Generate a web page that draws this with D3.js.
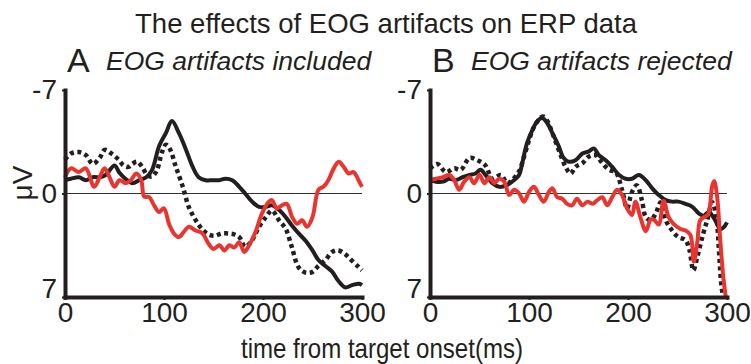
<!DOCTYPE html>
<html>
<head>
<meta charset="utf-8">
<script src="https://cdn.jsdelivr.net/npm/d3@7"></script>
<style>
  body { margin: 0; background: #fff; }
  svg { display: block; font-family: "Liberation Sans", Arial, sans-serif; }
</style>
</head>
<body>
<div id="chart"></div>
<script>
// time (ms) and amplitude (uV) pairs
var includedSolid = [[0,-0.9],[6,-1.0],[14,-1.1],[21,-0.9],[28,-1.1],[35,-1.1],[41,-1.25],[50,-1.9],[55,-1.4],[61,-1.0],[68,-0.7],[75,-0.9],[82,-1.1],[88,-1.6],[95,-3.2],[102,-4.1],[108,-4.9],[115,-4.1],[122,-3.0],[129,-1.8],[135,-1.1],[142,-0.9],[149,-0.9],[156,-0.9],[162,-1.0],[169,-0.9],[176,-0.45],[182,0],[189,0.55],[196,0.9],[203,0.9],[209,0.8],[216,1.1],[223,1.6],[229,2.15],[236,2.7],[243,3.2],[250,3.85],[256,4.5],[263,4.9],[270,5.3],[276,5.9],[283,6.35],[290,6.2],[297,6.1],[300,6.2]];
var includedDotted = [[0,-2.3],[6,-2.7],[14,-2.8],[21,-2.6],[28,-2.0],[35,-2.4],[40,-2.95],[47,-2.7],[54,-2.3],[59,-1.9],[64,-1.8],[68,-2.0],[73,-2.15],[78,-1.8],[83,-1.25],[88,-1.15],[93,-1.6],[98,-2.8],[102,-3.3],[106,-3.0],[112,-1.8],[119,-0.45],[125,0.9],[132,1.8],[139,2.45],[146,2.8],[152,2.85],[158,2.7],[164,2.7],[170,2.75],[176,2.95],[182,3.6],[189,3.15],[196,2.25],[203,1.6],[209,1.15],[216,1.8],[223,2.4],[229,3.6],[236,5.0],[243,5.35],[250,5.3],[256,4.9],[263,4.5],[270,3.95],[276,3.85],[283,4.1],[290,4.55],[297,5.0],[300,5.2]];
var includedRed = [[0,-1.1],[6,-1.7],[14,-1.45],[21,-1.7],[29.5,-0.45],[35,-1.1],[40,-1.7],[45,-1.1],[50,-0.45],[55,-0.9],[61.5,-0.7],[66.5,-0.9],[72,-1.35],[77,-0.9],[80,0.2],[85,0.25],[90,0.8],[95,1.25],[100,1.0],[105,2.05],[110,2.7],[115,2.95],[120,2.6],[125,2.25],[132,2.5],[139,2.7],[145,3.4],[150,3.75],[156,3.5],[161,3.85],[166,3.5],[171,3.65],[176,3.3],[181,3.95],[186,3.5],[193,2.5],[199,1.35],[206,0.55],[209,0.45],[214,1.0],[219,0.8],[224,0.7],[229.5,1.6],[234.5,2.05],[239.5,1.8],[244.5,2.25],[250,1.6],[256,-0.25],[261,-0.45],[266,-0.9],[271.5,-1.7],[276.5,-2.15],[281.5,-1.8],[286.5,-1.35],[291.5,-1.45],[296.5,-0.9],[300,-0.45]];

var rejectedSolid = [[0,-0.9],[6,-0.8],[13,-0.8],[19.5,-1.0],[26,-0.9],[33,-1.1],[40,-1.25],[46,-1.35],[51,-1.6],[56,-1.25],[63,-0.7],[70,-0.45],[77,-0.55],[83,-0.8],[90,-1.25],[93,-2.0],[98,-3.4],[103.5,-4.3],[108.5,-4.9],[113.5,-5.1],[118.5,-4.75],[123.5,-4.1],[130,-3.2],[135,-2.4],[140,-2.15],[147,-2.25],[154,-2.7],[160.5,-2.85],[165.5,-3.05],[170.5,-2.6],[177.5,-2.25],[184,-1.8],[191,-1.25],[197.5,-1.0],[204,-1.0],[211,-1.25],[218,-0.9],[224.5,-0.35],[231,0.1],[238,0.45],[244.5,0.55],[251,0.55],[258,0.7],[265,0.9],[271.5,1.35],[276.5,1.5],[281.5,1.25],[288,1.8],[293,2.4],[296.5,2.3],[300,1.95]];
var rejectedDotted = [[0,-1.7],[7.5,-2.0],[16,-1.45],[24.5,-1.7],[31,-1.6],[40,-2.4],[48,-2.25],[56,-1.9],[63,-1.0],[71.5,-1.25],[78,-0.7],[83,-0.9],[90,-1.5],[95,-2.5],[100,-3.6],[105,-4.5],[110,-5.0],[114,-5.2],[118.5,-4.9],[123.5,-4.1],[130,-2.95],[137,-1.8],[142,-1.35],[147,-1.8],[154,-2.05],[160.5,-2.5],[167,-2.6],[174,-2.05],[181,-1.6],[187.5,-1.45],[194,-0.25],[199,1.0],[204,-0.1],[209,-0.55],[214,0.45],[218,1.6],[223,1.8],[228,1.35],[233,0.6],[238,1.8],[244.5,2.5],[251,2.95],[258,3.15],[262,3.8],[266,5.2],[270,4.3],[275,2.95],[280,1.8],[285,0.6],[289,1.5],[292,4.0],[294,6.0],[296,7.0]];
var rejectedRed = [[0,-0.9],[6,-1.0],[13,-1.1],[19.5,-1.25],[24.5,-0.9],[29.5,-0.25],[34.5,-0.8],[40,-1.1],[44.5,-0.7],[50,-1.25],[55,-0.7],[60,-1.1],[65,-0.7],[70,-1.0],[75,-0.8],[80,0.1],[85,-0.25],[90,0],[95,0.55],[100,-0.1],[105,-0.45],[110,0.1],[115,0.55],[120,-0.1],[123.5,-0.35],[128.5,0.25],[133.5,0.35],[138.5,0.7],[143.5,0.8],[148.5,0.35],[154,0.8],[159,0.55],[164,0.7],[169,0.45],[174,0.25],[179,0.8],[184,0.25],[189,-0.25],[194,0.1],[199,1.0],[204,1.45],[207.5,0.55],[212.5,1.6],[218,2.55],[223,1.75],[226.5,1.8],[231,2.1],[236,0.5],[241,1.6],[246,2.05],[253,2.4],[258,2.5],[263,2.8],[266.5,4.6],[270,3.3],[273,1.8],[277,1.6],[281,1.4],[285,-0.5],[287,-0.85],[290,0.2],[293,3.0],[296.5,5.8],[299,7.1]];

var xTicks = [0, 100, 200, 300];
var yTicks = [-7, 0, 7];

var title = "The effects of EOG artifacts on ERP data";
var panelLetters = ["A", "B"];
var panelTitles = ["EOG artifacts included", "EOG artifacts rejected"];
var xLabel = "time from target onset(ms)";
var yLabel = "\u03bcV";

var ink = "#231f20";
var red = "#ea3430";

var svg = d3.select("#chart")
  .append("svg")
  .attr("width", 751)
  .attr("height", 364);

svg.append("rect").attr("width", 751).attr("height", 364).attr("fill", "#fff");

svg.append("text")
  .attr("x", 386)
  .attr("y", 33)
  .attr("text-anchor", "middle")
  .style("font-size", "27.5px")
  .attr("fill", ink)
  .text(title);

var yScale = d3.scaleLinear().domain([-7, 7]).range([90, 297]);

var panels = [
  {left: 65, right: 362, series: [includedSolid, includedDotted, includedRed]},
  {left: 430, right: 727, series: [rejectedSolid, rejectedDotted, rejectedRed]}
];

var styles = [
  {color: ink, width: 4, dash: null},
  {color: ink, width: 4.5, dash: "4,3.5"},
  {color: red, width: 4, dash: null}
];

panels.forEach(function (p, i) {
  var xScale = d3.scaleLinear().domain([0, 300]).range([p.left, p.right]);
  var g = svg.append("g");

  // zero line
  g.append("line")
    .attr("x1", p.left).attr("x2", p.right)
    .attr("y1", yScale(0)).attr("y2", yScale(0))
    .attr("stroke", "#333").attr("stroke-width", 1);

  var line = d3.line()
    .x(d => xScale(d[0]))
    .y(d => yScale(d[1]))
    .curve(d3.curveCatmullRom.alpha(0.5));

  p.series.forEach(function (s, k) {
    g.append("path")
      .datum(s)
      .attr("d", line)
      .attr("fill", "none")
      .attr("stroke", styles[k].color)
      .attr("stroke-width", styles[k].width)
      .attr("stroke-dasharray", styles[k].dash)
      .attr("stroke-linejoin", "round");
  });

  var yAxis = g.append("g")
    .attr("transform", `translate(${p.left},0)`)
    .call(d3.axisLeft(yScale).tickValues(yTicks).tickSize(3).tickSizeOuter(0).tickPadding(5)
      .tickFormat(d => String(d)));

  var xAxis = g.append("g")
    .attr("transform", `translate(0,${yScale(7)})`)
    .call(d3.axisBottom(xScale).tickValues(xTicks).tickSize(3).tickSizeOuter(0).tickPadding(2)
      .tickFormat(d => String(d)));

  [yAxis, xAxis].forEach(function (a) {
    a.select(".domain").attr("stroke", ink).attr("stroke-width", 4).attr("stroke-linecap", "square");
    a.selectAll(".tick line").attr("stroke", ink).attr("stroke-width", 2);
    a.selectAll(".tick text")
      .attr("fill", ink)
      .style("font-size", "28px")
      .style("font-family", "'Liberation Sans', Arial, sans-serif");
  });
  yAxis.selectAll(".tick text").filter(d => d === 7).attr("dy", "0em");

  // panel heading
  svg.append("text")
    .attr("x", p.left + 2)
    .attr("y", 72)
    .style("font-size", "34px")
    .attr("fill", ink)
    .text(panelLetters[i]);
  svg.append("text")
    .attr("x", p.left + 41)
    .attr("y", 70)
    .style("font-size", "26.5px")
    .style("font-style", "italic")
    .attr("fill", ink)
    .text(panelTitles[i]);
});

svg.append("text")
  .attr("transform", "translate(32,183) rotate(-90)")
  .attr("text-anchor", "middle")
  .style("font-size", "28px")
  .attr("fill", ink)
  .text(yLabel);

svg.append("text")
  .attr("x", 382)
  .attr("y", 358)
  .attr("text-anchor", "middle")
  .attr("textLength", 282)
  .attr("lengthAdjust", "spacingAndGlyphs")
  .style("font-size", "28px")
  .attr("fill", ink)
  .text(xLabel);
</script>
</body>
</html>
